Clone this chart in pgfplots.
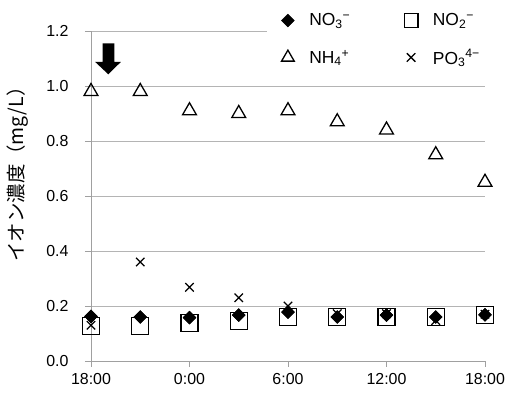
\documentclass[border=0pt]{standalone}
\usepackage{fontspec}
\setmainfont{Liberation Sans}
\newfontfamily\jp{Noto Sans CJK JP}
\usepackage{pgfplots}
\pgfplotsset{compat=1.18}
\definecolor{gridgray}{HTML}{B4B4B4}
\definecolor{axgray}{HTML}{A0A0A0}
\begin{document}
\begin{tikzpicture}
\useasboundingbox (-91bp,-33bp) rectangle (417bp,361bp);
\begin{axis}[
  at={(0,0)}, anchor=south west,
  scale only axis, width=394bp, height=330bp,
  xmin=0, xmax=24, ymin=0, ymax=1.2,
  clip=false,
  axis x line=bottom, axis y line=left,
  axis line style={draw=axgray, line width=0.8bp, -},
  xtick={0,6,12,18,24},
  xticklabels={18:00,0:00,6:00,12:00,18:00},
  ytick={0,0.2,0.4,0.6,0.8,1.0,1.2},
  yticklabel style={/pgf/number format/fixed, /pgf/number format/precision=1, /pgf/number format/fixed zerofill, xshift=-13bp},
  xticklabel style={yshift=-3bp},
  /pgf/number format/assume math mode=true,
  tick align=outside, major tick length=6bp,
  tick style={draw=axgray, line width=0.8bp},
  ymajorgrids, grid style={draw=gridgray, line width=0.8bp},
  tick label style={font=\fontsize{16}{18}\selectfont},
  ylabel={\jp イオン濃度（mg/L）},
  ylabel style={at={(axis description cs:-0.186,0.58)}, anchor=center, font=\fontsize{19.5}{22}\selectfont},
  legend columns=2,
  legend cell align=left,
  legend style={at={(rel axis cs:0.445,1.065)}, anchor=north west, draw=none, fill=white,
    inner xsep=15bp,
    font=\fontsize{17.5}{19}\selectfont, row sep=18bp,
    /tikz/every even column/.append style={column sep=52bp}},
]
\addplot[only marks, mark=square*, mark size=4.5bp, mark options={rotate=45, fill=black, draw=black, line width=0.5bp}]
  coordinates {(0,0.162) (3,0.160) (6,0.158) (9,0.167) (12,0.178) (15,0.160) (18,0.167) (21,0.160) (24,0.168)};
\addlegendentry{\hspace{13bp}NO\textsubscript{3}\textsuperscript{−}}
\addplot[only marks, mark=square, mark size=8.5bp, mark options={draw=black, line width=1.3bp}, legend image post style={mark size=6.8bp}]
  coordinates {(0,0.127) (3,0.127) (6,0.139) (9,0.146) (12,0.159) (15,0.159) (18,0.159) (21,0.159) (24,0.167)};
\addlegendentry{\hspace{13bp}NO\textsubscript{2}\textsuperscript{−}}
\addplot[only marks, mark=triangle, mark size=8bp, mark options={draw=black, line width=1.3bp}, legend image post style={mark size=7.3bp}]
  coordinates {(0,0.98) (3,0.98) (6,0.91) (9,0.90) (12,0.91) (15,0.87) (18,0.84) (21,0.75) (24,0.65)};
\addlegendentry{\hspace{13bp}NH\textsubscript{4}\textsuperscript{+}}
\addplot[only marks, mark=x, mark size=6bp, mark options={draw=black, line width=1.3bp}]
  coordinates {(0,0.130) (3,0.360) (6,0.268) (9,0.230) (12,0.200) (15,0.172) (18,0.172) (21,0.147) (24,0.170)};
\addlegendentry{\hspace{13bp}PO\textsubscript{3}\textsuperscript{4−}}
\addplot[forget plot, only marks, mark=square*, mark size=4.5bp, mark options={rotate=45, fill=black, draw=black, line width=0.5bp}]
  coordinates {(0,0.162) (3,0.160) (6,0.158) (9,0.167) (12,0.178) (15,0.160) (18,0.167) (21,0.160) (24,0.168)};
\fill[black] (axis cs:0.713,1.155) -- (axis cs:1.42,1.155) -- (axis cs:1.42,1.088) -- (axis cs:1.827,1.088) -- (axis cs:1.054,1.0425) -- (axis cs:0.244,1.088) -- (axis cs:0.713,1.088) -- cycle;
\end{axis}
\end{tikzpicture}
\end{document}
